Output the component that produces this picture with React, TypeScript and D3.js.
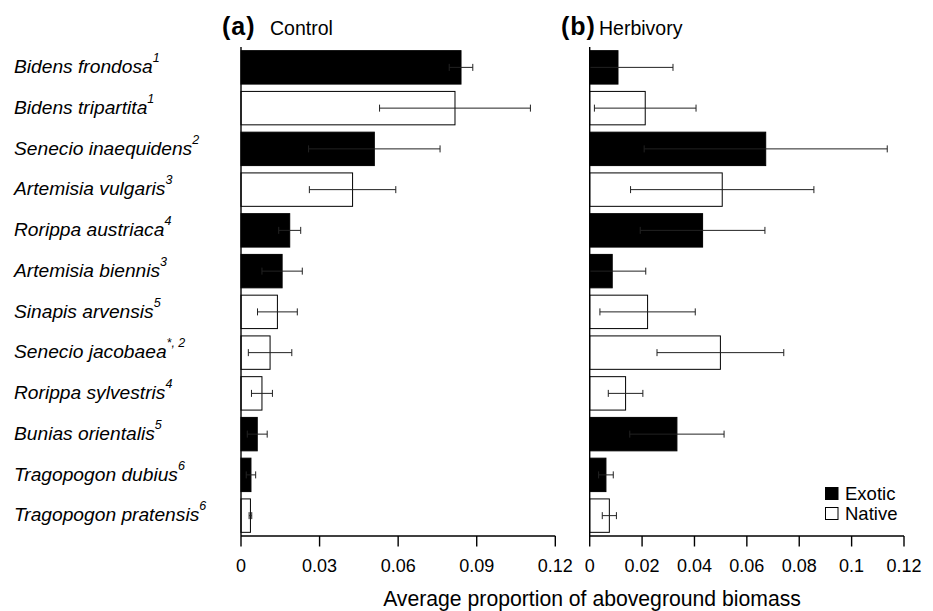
import React from "react";
import * as d3 from "d3";

const species = [
  "Bidens frondosa",
  "Bidens tripartita",
  "Senecio inaequidens",
  "Artemisia vulgaris",
  "Rorippa austriaca",
  "Artemisia biennis",
  "Sinapis arvensis",
  "Senecio jacobaea",
  "Rorippa sylvestris",
  "Bunias orientalis",
  "Tragopogon dubius",
  "Tragopogon pratensis",
];
const superscripts = ["1", "1", "2", "3", "4", "3", "5", "*, 2", "4", "5", "6", "6"];
const origin = [
  "Exotic", "Native", "Exotic", "Native", "Exotic", "Exotic",
  "Native", "Native", "Native", "Exotic", "Exotic", "Native",
];
const controlMean = [0.084, 0.0817, 0.0509, 0.0426, 0.0186, 0.0157, 0.0139, 0.0111, 0.008, 0.0062, 0.0038, 0.0036];
const controlErr = [0.0045, 0.0288, 0.0251, 0.0165, 0.0042, 0.0077, 0.0076, 0.0083, 0.004, 0.0038, 0.0018, 0.0005];
const herbMean = [0.0108, 0.0212, 0.0672, 0.0506, 0.0431, 0.0086, 0.0221, 0.0499, 0.0137, 0.0333, 0.0062, 0.0075];
const herbErr = [0.021, 0.0194, 0.0464, 0.035, 0.0238, 0.0128, 0.0182, 0.0242, 0.0066, 0.018, 0.0028, 0.0027];
const ticksA = [0, 0.03, 0.06, 0.09, 0.12];
const ticksB = [0, 0.02, 0.04, 0.06, 0.08, 0.1, 0.12];
const tickLabelsA = ["0", "0.03", "0.06", "0.09", "0.12"];
const tickLabelsB = ["0", "0.02", "0.04", "0.06", "0.08", "0.1", "0.12"];
const legendItems = ["Exotic", "Native"];

const W = 933;
const H = 611;
const FONT = "'Liberation Sans', Arial, sans-serif";
const top = 47;
const bottom = 536;

function Panel({ x0, means, errs, ticks, tickLabels, label, title, titleX, subX }: any) {
  const x = d3.scaleLinear().domain([0, 0.12]).range([x0, x0 + 314.3]);
  const y = d3.scaleBand<number>().domain(d3.range(species.length)).range([top, bottom]).paddingInner(0.18).paddingOuter(0.09);
  const bh = y.bandwidth();
  return (
    <g>
      <text x={titleX} y={35} fontFamily={FONT} fontWeight="bold" fontSize={25} letterSpacing={1} fill="#000">{label}</text>
      <text x={subX} y={35} fontFamily={FONT} fontSize={19.5} fill="#000">{title}</text>
      {means.map((m: number, i: number) => {
        const yy = y(i)!;
        const cy = yy + bh / 2;
        const lo = Math.max(0, m - errs[i]);
        const hi = m + errs[i];
        return (
          <g key={i}>
            <rect x={x(0)} y={yy} width={x(m) - x(0)} height={bh}
              fill={origin[i] === "Exotic" ? "#000" : "#fff"} stroke="#000" strokeWidth={1} />
            <g stroke="#222" strokeWidth={1}>
              <line x1={x(lo)} x2={x(hi)} y1={cy} y2={cy} />
              {m - errs[i] > 0 && <line x1={x(lo)} x2={x(lo)} y1={cy - 3.5} y2={cy + 3.5} />}
              <line x1={x(hi)} x2={x(hi)} y1={cy - 3.5} y2={cy + 3.5} />
            </g>
          </g>
        );
      })}
      <line x1={x(0)} x2={x(0)} y1={top} y2={bottom} stroke="#000" strokeWidth={1.4} />
      <line x1={x(0)} x2={x(0.12)} y1={bottom} y2={bottom} stroke="#000" strokeWidth={1.4} />
      {ticks.map((t: number, i: number) => (
        <g key={i}>
          <line x1={x(t)} x2={x(t)} y1={bottom} y2={bottom + 10.5} stroke="#000" strokeWidth={1.4} />
          <text x={x(t)} y={572} textAnchor="middle" fontFamily={FONT} fontSize={18} fill="#000">{tickLabels[i]}</text>
        </g>
      ))}
    </g>
  );
}

export default function App() {
  const y = d3.scaleBand<number>().domain(d3.range(species.length)).range([top, bottom]).paddingInner(0.18).paddingOuter(0.09);
  const bh = y.bandwidth();
  return (
    <svg width={W} height={H} style={{ position: "absolute", left: 0, top: 0, background: "#fff" }}>
      <rect x={0} y={0} width={W} height={H} fill="#fff" />
      {species.map((s, i) => (
        <text key={i} x={14} y={y(i)! + bh / 2 + 5.8} fontFamily={FONT} fontSize={19.2} fontStyle="italic" fill="#000">
          {s}
          <tspan fontSize={12.5} dy={-11}>{superscripts[i]}</tspan>
        </text>
      ))}
      <Panel x0={241} means={controlMean} errs={controlErr} ticks={ticksA} tickLabels={tickLabelsA}
        label="(a)" title="Control" titleX={222} subX={270} />
      <Panel x0={589.7} means={herbMean} errs={herbErr} ticks={ticksB} tickLabels={tickLabelsB}
        label="(b)" title="Herbivory" titleX={561} subX={599} />
      {legendItems.map((l, i) => (
        <g key={l}>
          <rect x={825.5} y={487.5 + i * 20} width={12.5} height={12}
            fill={l === "Exotic" ? "#000" : "#fff"} stroke="#000" strokeWidth={1} />
          <text x={845} y={499.5 + i * 20} fontFamily={FONT} fontSize={18.5} fill="#000">{l}</text>
        </g>
      ))}
      <text x={592} y={605.5} textAnchor="middle" fontFamily={FONT} fontSize={21.2} fill="#000">
        Average proportion of aboveground biomass
      </text>
    </svg>
  );
}
